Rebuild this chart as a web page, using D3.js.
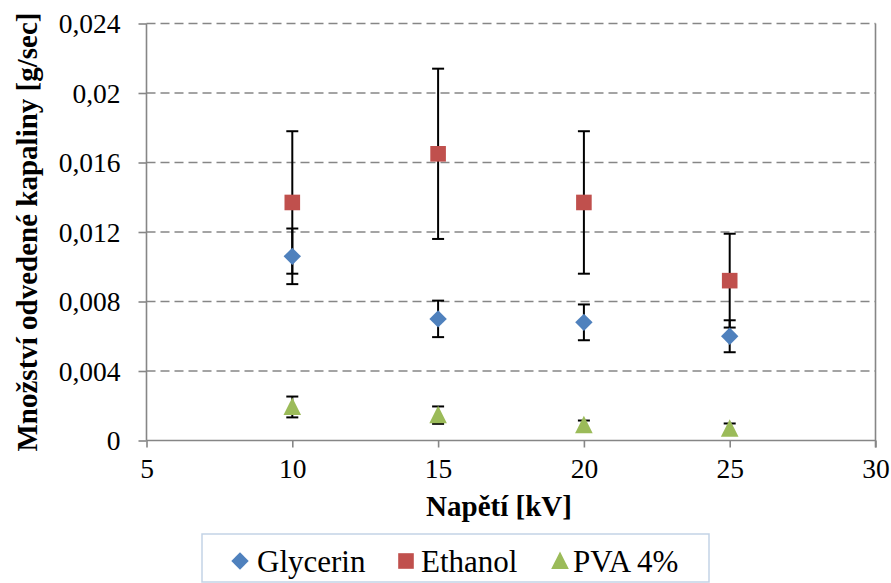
<!DOCTYPE html>
<html>
<head>
<meta charset="utf-8">
<script src="https://cdn.jsdelivr.net/npm/d3@7/dist/d3.min.js"></script>
</head>
<body style="margin:0">
<svg id="chart" width="891" height="583" style="display:block;background:#fff"></svg>
<script>
// ---- data ----
const voltage = [10, 15, 20, 25];
const glycerin = [0.0106, 0.0070, 0.0068, 0.0060];
const glycerinErr = [0.0016, 0.00105, 0.00103, 0.00092];
const ethanol = [0.0137, 0.0165, 0.0137, 0.0092];
const ethanolErr = [0.0041, 0.0049, 0.0041, 0.0027];
const pva = [0.00193, 0.00146, 0.00088, 0.00068];
const pvaErr = [0.0006, 0.0005, 0.00027, 0.0003];
const seriesNames = ["Glycerin", "Ethanol", "PVA 4%"];
const xTicks = [5, 10, 15, 20, 25, 30];
const yTicks = [0, 0.004, 0.008, 0.012, 0.016, 0.02, 0.024];
const yTickLabels = ["0", "0,004", "0,008", "0,012", "0,016", "0,02", "0,024"];
const xTitle = "Napětí [kV]";
const yTitle = "Množství odvedené kapaliny [g/sec]";

// ---- layout ----
const L = 146.5, R = 875.5, T = 23.5, B = 440.5;
const colors = ["#4F81BD", "#C0504D", "#9BBB59"];
const axisColor = "#868686";
const FONT = "Liberation Serif";

const svg = d3.select("#chart");
const x = d3.scaleLinear().domain([5, 30]).range([L, R]);
const y = d3.scaleLinear().domain([0, 0.024]).range([B, T]);

function serif(sel, size, bold) {
  sel.style("font-family", FONT, "important")
     .style("font-size", size + "px", "important")
     .style("font-weight", bold ? "bold" : "normal", "important")
     .attr("fill", "#000");
  return sel;
}

// gridlines
svg.append("g").selectAll("line").data(yTicks.filter(d => d > 0)).join("line")
  .attr("x1", L).attr("x2", R)
  .attr("y1", d => y(d)).attr("y2", d => y(d))
  .attr("stroke", axisColor).attr("stroke-width", 1.6)
  .attr("stroke-dasharray", "9,5");

// right border
svg.append("line").attr("x1", R).attr("x2", R).attr("y1", T).attr("y2", B + 7)
  .attr("stroke", axisColor).attr("stroke-width", 1.6);

// y axis
const yAxis = d3.axisLeft(y).tickValues(yTicks).tickSize(8).tickPadding(18)
  .tickFormat((d, i) => yTickLabels[i]);
const gy = svg.append("g").attr("transform", `translate(${L},0)`).call(yAxis)
  .attr("font-family", FONT).attr("font-size", 27.5);
gy.select(".domain").attr("stroke", axisColor).attr("stroke-width", 1.6).attr("d", `M0,${T}V${B}`);
gy.selectAll(".tick line").attr("stroke", axisColor).attr("stroke-width", 1.6);
serif(gy.selectAll(".tick text"), 27.5, false).attr("dy", "0.34em");

// x axis
const xAxis = d3.axisBottom(x).tickValues(xTicks).tickSize(7).tickPadding(11);
const gx = svg.append("g").attr("transform", `translate(0,${B})`).call(xAxis)
  .attr("font-family", FONT).attr("font-size", 27.5);
gx.select(".domain").attr("stroke", axisColor).attr("stroke-width", 1.6).attr("d", `M${L},0H${R}`);
gx.selectAll(".tick line").attr("stroke", axisColor).attr("stroke-width", 1.6);
serif(gx.selectAll(".tick text"), 27.5, false);

// titles
serif(svg.append("text").attr("x", 499).attr("y", 516).attr("text-anchor", "middle"), 29, true).text(xTitle);
serif(svg.append("text").attr("transform", `translate(37,${(T + B) / 2}) rotate(-90)`)
  .attr("text-anchor", "middle"), 29, true).text(yTitle);

// series
const series = [
  { name: seriesNames[0], vals: glycerin, err: glycerinErr, sym: "diamond" },
  { name: seriesNames[1], vals: ethanol, err: ethanolErr, sym: "square" },
  { name: seriesNames[2], vals: pva, err: pvaErr, sym: "triangle" }
];

function marker(g, sym, color) {
  if (sym === "diamond") {
    g.append("path").attr("d", "M0,-8.7L8.7,0L0,8.7L-8.7,0Z").attr("fill", color);
  } else if (sym === "square") {
    g.append("rect").attr("x", -7.8).attr("y", -7.8).attr("width", 15.6).attr("height", 15.6).attr("fill", color);
  } else {
    g.append("path").attr("d", "M0,-9.5L8.8,8L-8.8,8Z").attr("fill", color);
  }
}

// error bars
const eb = svg.append("g");
series.forEach(s => {
  s.vals.forEach((v, i) => {
    const cx = x(voltage[i]);
    const y1 = y(v + s.err[i]), y2 = y(v - s.err[i]);
    eb.append("line").attr("x1", cx).attr("x2", cx).attr("y1", y1).attr("y2", y2)
      .attr("stroke", "#000").attr("stroke-width", 2);
    [y1, y2].forEach(yy => eb.append("line").attr("x1", cx - 6).attr("x2", cx + 6)
      .attr("y1", yy).attr("y2", yy).attr("stroke", "#000").attr("stroke-width", 2));
  });
});

// markers
series.forEach((s, si) => {
  s.vals.forEach((v, i) => {
    const g = svg.append("g").attr("transform", `translate(${x(voltage[i])},${y(v)})`);
    marker(g, s.sym, colors[si]);
  });
});

// legend
svg.append("rect").attr("x", 202).attr("y", 534).attr("width", 507).attr("height", 48)
  .attr("fill", "#fff").attr("stroke", "#c3d3e6").attr("stroke-width", 1.5);
const legendX = [240, 406, 560];
series.forEach((s, si) => {
  const g = svg.append("g").attr("transform", `translate(${legendX[si]},561)`);
  marker(g, s.sym, colors[si]);
  serif(svg.append("text").attr("x", legendX[si] + (si === 0 ? 17 : (si === 1 ? 15 : 13))).attr("y", 571.5), 31, false)
    .text(s.name);
});
</script>
</body>
</html>
